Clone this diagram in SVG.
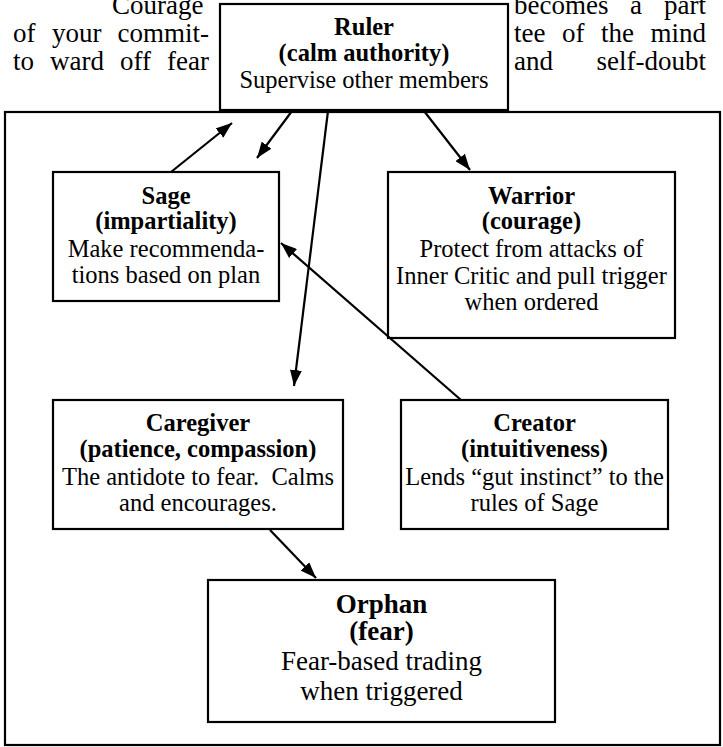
<svg xmlns="http://www.w3.org/2000/svg" width="723" height="747" viewBox="0 0 723 747">
<defs>
<marker id="ah" markerUnits="userSpaceOnUse" markerWidth="16" markerHeight="12" refX="16" refY="6" orient="auto"><path d="M0,0 L16,6 L0,12 Z" fill="#000"/></marker>
</defs>
<style>
.box{fill:#fff;stroke:#000;stroke-width:2.2}
.frame{fill:none;stroke:#000;stroke-width:2.2}
text{font-family:"Liberation Serif","Times New Roman",serif;fill:#000}
.t{font-size:24.5px;text-anchor:middle}
.b{font-weight:bold}
.o{font-size:27px;text-anchor:middle}
.p{font-size:27px}
.c{stroke:#000;stroke-width:2.2;fill:none;marker-end:url(#ah)}
</style>
<rect width="723" height="747" fill="#fff"/>
<g id="paragraph" class="p">
<text x="112" y="14">Courage</text>
<text y="14"><tspan x="514">becomes</tspan><tspan x="630">a</tspan><tspan x="706" text-anchor="end">part</tspan></text>
<text y="42"><tspan x="13">of</tspan><tspan x="52">your</tspan><tspan x="209" text-anchor="end">commit-</tspan></text>
<text y="42"><tspan x="514">tee</tspan><tspan x="562">of</tspan><tspan x="601">the</tspan><tspan x="706" text-anchor="end">mind</tspan></text>
<text y="70"><tspan x="13">to</tspan><tspan x="50">ward</tspan><tspan x="120">off</tspan><tspan x="209" text-anchor="end">fear</tspan></text>
<text y="70"><tspan x="514">and</tspan><tspan x="706" text-anchor="end">self-doubt</tspan></text>
</g>
<rect id="frame" class="frame" x="5" y="112" width="715" height="633"/>
<g id="node-ruler">
<rect class="box" x="220" y="4" width="288" height="106"/>
<text class="t b" x="364" y="35">Ruler</text>
<text class="t b" x="364" y="61">(calm authority)</text>
<text class="t" x="364" y="88">Supervise other members</text>
</g>
<g id="node-sage">
<rect class="box" x="53" y="172" width="226" height="129"/>
<text class="t b" x="166" y="204">Sage</text>
<text class="t b" x="166" y="229">(impartiality)</text>
<text class="t" x="166" y="257">Make recommenda-</text>
<text class="t" x="166" y="283">tions based on plan</text>
</g>
<g id="node-warrior">
<rect class="box" x="388" y="172" width="287" height="166"/>
<text class="t b" x="531.5" y="204">Warrior</text>
<text class="t b" x="531.5" y="229">(courage)</text>
<text class="t" x="531.5" y="257">Protect from attacks of</text>
<text class="t" x="531.5" y="284">Inner Critic and pull trigger</text>
<text class="t" x="531.5" y="310">when ordered</text>
</g>
<g id="node-caregiver">
<rect class="box" x="53" y="400" width="290" height="129"/>
<text class="t b" x="198" y="431">Caregiver</text>
<text class="t b" x="198" y="457">(patience, compassion)</text>
<text class="t" x="198" y="485">The antidote to fear.&#160; Calms</text>
<text class="t" x="198" y="511">and encourages.</text>
</g>
<g id="node-creator">
<rect class="box" x="401" y="400" width="267" height="129"/>
<text class="t b" x="534.5" y="431">Creator</text>
<text class="t b" x="534.5" y="457">(intuitiveness)</text>
<text class="t" x="534.5" y="485">Lends “gut instinct” to the</text>
<text class="t" x="534.5" y="511">rules of Sage</text>
</g>
<g id="node-orphan">
<rect class="box" x="208" y="580" width="347" height="142"/>
<text class="o b" x="381.5" y="613">Orphan</text>
<text class="o b" x="381.5" y="640">(fear)</text>
<text class="o" x="381.5" y="670">Fear-based trading</text>
<text class="o" x="381.5" y="700">when triggered</text>
</g>
<g id="connectors">
<line class="c" x1="171" y1="172" x2="232" y2="123"/>
<line class="c" x1="292" y1="111" x2="257" y2="158"/>
<line class="c" x1="328" y1="111" x2="294" y2="386"/>
<line class="c" x1="424" y1="111" x2="470" y2="170"/>
<line class="c" x1="461" y1="400" x2="281" y2="243"/>
<line class="c" x1="270" y1="530" x2="316" y2="578"/>
</g>
</svg>
